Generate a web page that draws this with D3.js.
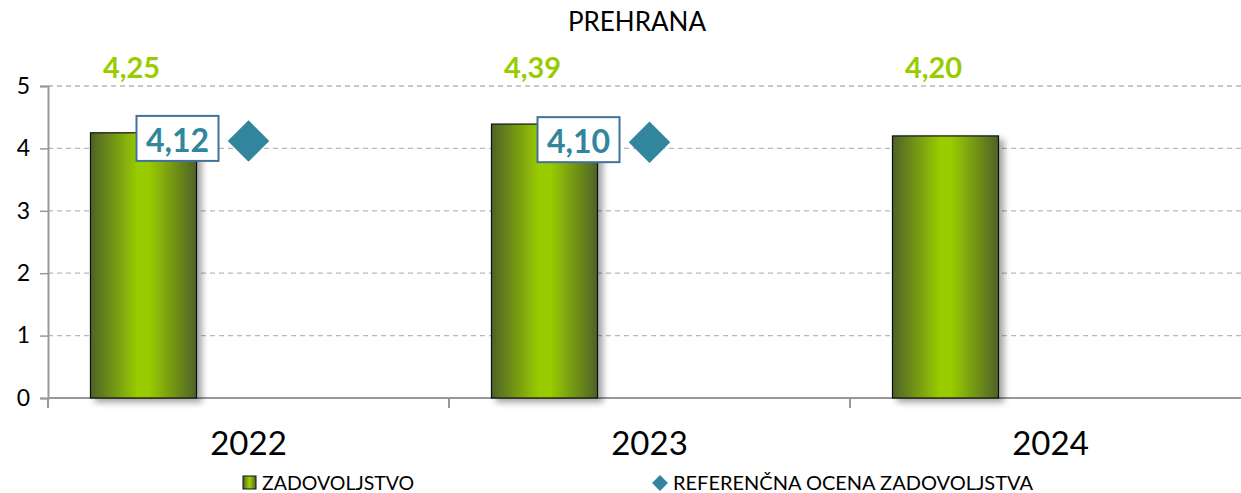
<!DOCTYPE html>
<html>
  <head>
    <meta charset="utf-8" />
    <script src="https://cdn.jsdelivr.net/npm/d3@7"></script>
    <style>
      body {
        margin: 0;
        font-family: Lato, "Open Sans", sans-serif;
        background: #fff;
      }
    </style>
  </head>
  <body>
    <script>
      // data
      var years = ["2022", "2023", "2024"];
      var satisfaction = [4.25, 4.39, 4.2];
      var reference = [4.12, 4.1, null];
      var yTicks = [0, 1, 2, 3, 4, 5];

      var W = 1241,
        H = 493;

      var svg = d3
        .select("body")
        .append("svg")
        .attr("width", W)
        .attr("height", H);

      var defs = svg.append("defs");
      var grad = defs
        .append("linearGradient")
        .attr("id", "barGrad")
        .attr("x1", "0%")
        .attr("x2", "100%");
      grad.append("stop").attr("offset", "0%").attr("stop-color", "#4f6228");
      grad.append("stop").attr("offset", "45%").attr("stop-color", "#99cc00");
      grad.append("stop").attr("offset", "55%").attr("stop-color", "#99cc00");
      grad.append("stop").attr("offset", "100%").attr("stop-color", "#4f6228");

      var shadow = defs
        .append("filter")
        .attr("id", "shadow")
        .attr("x", "-20%")
        .attr("y", "-10%")
        .attr("width", "150%")
        .attr("height", "130%");
      shadow
        .append("feDropShadow")
        .attr("dx", 5)
        .attr("dy", 4)
        .attr("stdDeviation", 3)
        .attr("flood-color", "#000")
        .attr("flood-opacity", 0.35);

      var x = d3.scaleBand().domain(years).range([48, 1251]);
      var y = d3.scaleLinear().domain([0, 5]).range([398, 86]);

      // gridlines
      svg
        .selectAll(".grid")
        .data(yTicks.slice(1))
        .enter()
        .append("line")
        .attr("x1", 48)
        .attr("x2", W)
        .attr("y1", function (d) {
          return y(d);
        })
        .attr("y2", function (d) {
          return y(d);
        })
        .attr("stroke", "#b8b8b8")
        .attr("stroke-width", 1.3)
        .attr("stroke-dasharray", "5,4");

      // y axis
      var yAxis = svg
        .append("g")
        .attr("transform", "translate(48,0)")
        .call(
          d3
            .axisLeft(y)
            .tickValues(yTicks)
            .tickFormat(d3.format("d"))
            .tickSize(8)
            .tickPadding(10)
        );
      yAxis.select(".domain").attr("stroke", "#999").attr("stroke-width", 2);
      yAxis.selectAll(".tick line").attr("stroke", "#999").attr("stroke-width", 1.5);
      yAxis
        .selectAll("text")
        .attr("font-family", "Lato, sans-serif")
        .attr("font-size", 23)
        .attr("fill", "#000");

      // x axis
      var xAxis = svg
        .append("g")
        .attr("transform", "translate(0,398)")
        .call(d3.axisBottom(x).tickSize(0).tickPadding(34));
      xAxis.select(".domain").remove();
      xAxis
        .selectAll("text")
        .attr("font-family", "Lato, sans-serif")
        .attr("font-size", 33)
        .attr("fill", "#000");
      svg
        .append("line")
        .attr("x1", 48)
        .attr("x2", W)
        .attr("y1", 398)
        .attr("y2", 398)
        .attr("stroke", "#999")
        .attr("stroke-width", 2);
      svg
        .selectAll(".xtick")
        .data(years)
        .enter()
        .append("line")
        .attr("x1", function (d) {
          return x(d);
        })
        .attr("x2", function (d) {
          return x(d);
        })
        .attr("y1", 398)
        .attr("y2", 408)
        .attr("stroke", "#999")
        .attr("stroke-width", 2);

      // bars
      var barW = 106;
      function barX(d) {
        return x(d) + x.bandwidth() / 2 - 158;
      }
      svg
        .selectAll(".bar")
        .data(years)
        .enter()
        .append("rect")
        .attr("x", function (d) {
          return barX(d);
        })
        .attr("y", function (d, i) {
          return y(satisfaction[i]);
        })
        .attr("width", barW)
        .attr("height", function (d, i) {
          return y(0) - y(satisfaction[i]);
        })
        .attr("fill", "url(#barGrad)")
        .attr("stroke", "#111")
        .attr("stroke-width", 1.2)
        .attr("filter", "url(#shadow)");

      // bar values on top
      svg
        .selectAll(".barLabel")
        .data(years)
        .enter()
        .append("text")
        .attr("x", function (d) {
          return barX(d) + barW / 2 - 12;
        })
        .attr("y", 78)
        .attr("text-anchor", "middle")
        .attr("font-size", 29)
        .attr("font-weight", "bold")
        .attr("fill", "#99cc00")
        .text(function (d, i) {
          return satisfaction[i].toFixed(2).replace(".", ",");
        });

      // reference points
      var refData = years
        .map(function (d, i) {
          return { year: d, v: reference[i] };
        })
        .filter(function (d) {
          return d.v != null;
        });

      var refG = svg
        .selectAll(".ref")
        .data(refData)
        .enter()
        .append("g")
        .attr("transform", function (d) {
          return (
            "translate(" + (x(d.year) + x.bandwidth() / 2) + "," + y(d.v) + ")"
          );
        });
      refG
        .append("path")
        .attr("d", d3.symbol().type(d3.symbolDiamond2).size(1100))
        .attr("fill", "#31859c");
      refG
        .append("rect")
        .attr("x", -112)
        .attr("y", -25)
        .attr("width", 82)
        .attr("height", 45)
        .attr("fill", "#fff")
        .attr("stroke", "#41719c")
        .attr("stroke-width", 2);
      refG
        .append("text")
        .attr("x", -71)
        .attr("y", 11)
        .attr("text-anchor", "middle")
        .attr("font-size", 32)
        .attr("font-weight", "bold")
        .attr("fill", "#31859c")
        .text(function (d) {
          return d.v.toFixed(2).replace(".", ",");
        });

      // title
      svg
        .append("text")
        .attr("x", 637)
        .attr("y", 31)
        .attr("text-anchor", "middle")
        .attr("font-size", 26)
        .attr("fill", "#000")
        .text("PREHRANA");

      // legend
      var leg = svg.append("g").attr("transform", "translate(0,483)");
      leg
        .append("rect")
        .attr("x", 243)
        .attr("y", -7)
        .attr("width", 13)
        .attr("height", 13)
        .attr("fill", "url(#barGrad)")
        .attr("stroke", "#111")
        .attr("stroke-width", 1);
      leg
        .append("text")
        .attr("x", 262)
        .attr("y", 7)
        .attr("font-size", 19.5)
        .attr("fill", "#000")
        .text("ZADOVOLJSTVO");
      leg
        .append("path")
        .attr("transform", "translate(660,0)")
        .attr("d", d3.symbol().type(d3.symbolDiamond2).size(160))
        .attr("fill", "#31859c");
      leg
        .append("text")
        .attr("x", 673)
        .attr("y", 7)
        .attr("font-size", 20)
        .attr("fill", "#000")
        .text("REFERENČNA OCENA ZADOVOLJSTVA");
    </script>
  </body>
</html>
